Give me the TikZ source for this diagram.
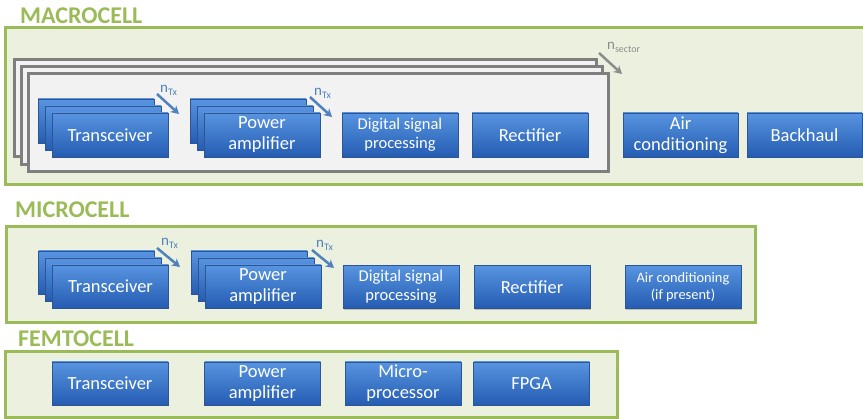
\documentclass[tikz,border=0pt]{standalone}
\usepackage{fontspec}
\setmainfont{Carlito}
\usetikzlibrary{arrows.meta,shadows}
\definecolor{cellgreen}{RGB}{155,187,89}
\definecolor{cellfill}{RGB}{235,241,222}
\definecolor{stackgray}{RGB}{127,127,127}
\definecolor{stackfill}{RGB}{242,242,242}
\definecolor{boxtop}{RGB}{88,148,224}
\definecolor{boxbot}{RGB}{36,92,178}
\definecolor{boxline}{RGB}{45,85,145}
\definecolor{txblue}{RGB}{79,129,189}
\definecolor{sectgray}{RGB}{140,140,140}
\newcommand{\nsub}[1]{{\fontsize{15}{15}\selectfont n}\raisebox{-2.5pt}{\fontsize{10}{10}\selectfont #1}}
\tikzset{
 bbox/.style={rectangle, draw=boxline, line width=0.8pt, top color=boxtop, bottom color=boxbot,
   text=white, align=center, minimum width=116pt, minimum height=44pt, inner sep=1pt,
   font=\fontsize{18.5}{21}\selectfont,
   drop shadow={shadow xshift=0.8pt, shadow yshift=-1.5pt, opacity=0.45}},
 smalltext/.style={font=\fontsize{16.5}{19}\selectfont},
 tinytext/.style={font=\fontsize{14.4}{17}\selectfont},
 cellbox/.style={draw=cellgreen, line width=3pt, fill=cellfill},
 celltitle/.style={text=cellgreen, font=\fontsize{24}{24}\selectfont\bfseries, anchor=base west, inner sep=0pt},
 stackbox/.style={draw=stackgray, line width=3pt, fill=stackfill},
 mularrow/.style={line width=2.5pt, -{Stealth[length=8pt,width=9pt]}},
 mullabel/.style={anchor=base west, inner sep=0pt},
}
\begin{document}
\begin{tikzpicture}[x=1pt,y=-1pt]
\useasboundingbox (0,0) rectangle (863,419);

% ---------------- MACROCELL ----------------
\node[celltitle] (tmacro) at (20,24) {MACROCELL};
\path[cellbox] (5,28) rectangle (872,185);
\path[stackbox] (14,60) rectangle (596,157);
\path[stackbox] (21,67) rectangle (602,165);
\path[stackbox] (28,74) rectangle (608,172);

\node[bbox] (mtr3) at (96,121) {};
\node[bbox] (mtr2) at (103,128) {};
\node[bbox] (mtr1) at (110,135) {Transceiver};
\node[bbox] (mpa3) at (248,121) {};
\node[bbox] (mpa2) at (255,128) {};
\node[bbox] (mpa1) at (262,135) {Power\\amplifier};
\node[bbox, smalltext] (mdsp) at (400,135) {Digital signal\\processing};
\node[bbox] (mrec) at (530,135) {Rectifier};
\node[bbox, minimum width=115pt] (mac) at (680.5,135) {Air\\conditioning};
\node[bbox, minimum width=115pt] (mbh) at (804.5,135) {Backhaul};

\node[mullabel, text=txblue] (mlab1) at (160,93) {\nsub{Tx}};
\coordinate (ma1s) at (157,94);
\coordinate (ma1e) at (179,114);
\draw[mularrow, txblue] (ma1s) -- (ma1e);
\node[mullabel, text=txblue] (mlab2) at (314,96) {\nsub{Tx}};
\coordinate (ma2s) at (310,97);
\coordinate (ma2e) at (332,117);
\draw[mularrow, txblue] (ma2s) -- (ma2e);
\node[mullabel, text=sectgray] (slab) at (607,50) {\nsub{sector}};
\coordinate (sas) at (599,53);
\coordinate (sae) at (622,74);
\draw[mularrow, sectgray] (sas) -- (sae);

% ---------------- MICROCELL ----------------
\node[celltitle] (tmicro) at (15,218) {MICROCELL};
\path[cellbox] (6,227) rectangle (755,323);
\node[bbox, minimum height=43pt] (itr3) at (96.5,272.5) {};
\node[bbox, minimum height=43pt] (itr2) at (103.5,279.5) {};
\node[bbox, minimum height=43pt] (itr1) at (110.5,286.5) {Transceiver};
\node[bbox, minimum height=43pt] (ipa3) at (249,272.5) {};
\node[bbox, minimum height=43pt] (ipa2) at (256,279.5) {};
\node[bbox, minimum height=43pt] (ipa1) at (263,286.5) {Power\\amplifier};
\node[bbox, smalltext, minimum height=43pt] (idsp) at (401,287) {Digital signal\\processing};
\node[bbox, minimum height=43pt] (irec) at (532,287) {Rectifier};
\node[bbox, tinytext, minimum height=43pt] (iac) at (683,287) {Air conditioning\\(if present)};

\node[mullabel, text=txblue] (ilab1) at (161,246) {\nsub{Tx}};
\coordinate (ia1s) at (157,248);
\coordinate (ia1e) at (180,267);
\draw[mularrow, txblue] (ia1s) -- (ia1e);
\node[mullabel, text=txblue] (ilab2) at (316,248) {\nsub{Tx}};
\coordinate (ia2s) at (312,250);
\coordinate (ia2e) at (334,268);
\draw[mularrow, txblue] (ia2s) -- (ia2e);

% ---------------- FEMTOCELL ----------------
\node[celltitle] (tfemto) at (18,347) {FEMTOCELL};
\path[cellbox] (5,352) rectangle (617,418);
\node[bbox, minimum height=43pt] (ftr) at (110,383.5) {Transceiver};
\node[bbox, minimum height=43pt] (fpa) at (262.5,383.5) {Power\\amplifier};
\node[bbox, minimum height=43pt] (fmp) at (403,383.5) {Micro-\\processor};
\node[bbox, minimum height=43pt] (ffp) at (531.5,383.5) {FPGA};
\end{tikzpicture}
\end{document}
